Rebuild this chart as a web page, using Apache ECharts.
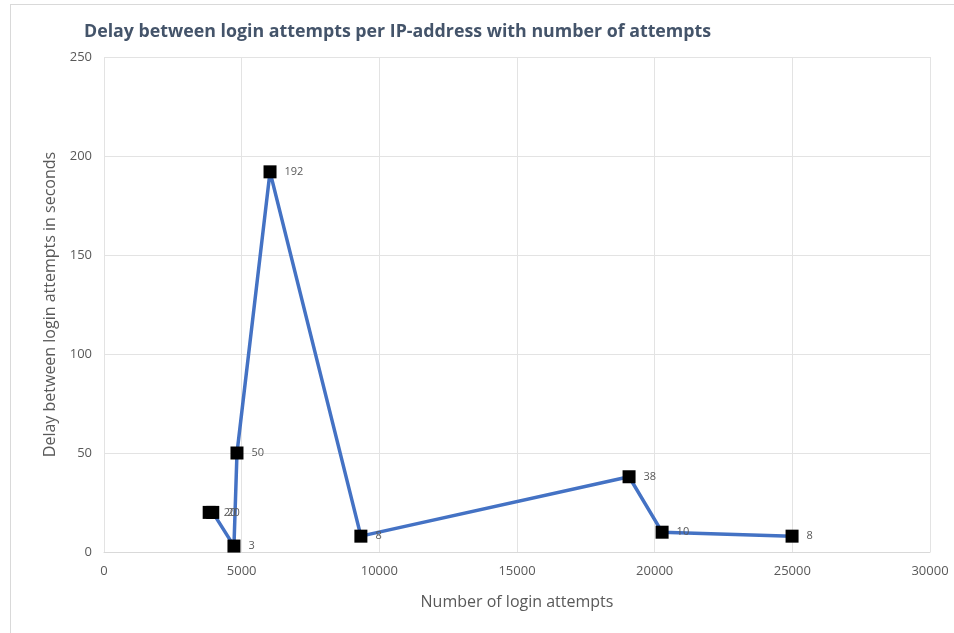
<!DOCTYPE html>
<html>
<head>
<meta charset="utf-8">
<script src="https://cdn.jsdelivr.net/npm/echarts@6/dist/echarts.min.js"></script>
<style>
  html, body { margin: 0; padding: 0; background: #fff; }
  #box { position: absolute; left: 10px; top: 4px; width: 946px; height: 640px; border: 1px solid #d9d9d9; box-sizing: border-box; }
  #chart { position: absolute; left: 0; top: 0; width: 954px; height: 633px; }
</style>
</head>
<body>
<div id="box"></div>
<div id="chart"></div>
<script>
// login attempts (x) vs delay in seconds (y)
var attempts = [3820, 3950, 4720, 4830, 6030, 9330, 19070, 20270, 24990]
var delays = [20, 20, 3, 50, 192, 8, 38, 10, 8]
var xTicks = [0, 5000, 10000, 15000, 20000, 25000, 30000]
var yTicks = [0, 50, 100, 150, 200, 250]

var pts = []
for (var i = 0; i < attempts.length; i++) {
  pts.push([attempts[i], delays[i]])
}

var fnt = '"Open Sans", "Noto Sans", sans-serif'
var myChart = echarts.init(document.getElementById('chart'))
myChart.setOption({
  animation: false,
  title: {
    text: 'Delay between login attempts per IP-address with number of attempts',
    left: 79,
    top: 18,
    textStyle: { fontFamily: fnt, fontSize: 17.8, fontWeight: 'bold', color: '#44546a' }
  },
  grid: { left: 104, right: 24, top: 57, bottom: 81 },
  xAxis: {
    type: 'value',
    min: xTicks[0],
    max: xTicks[xTicks.length - 1],
    interval: 5000,
    name: 'Number of login attempts',
    nameLocation: 'middle',
    nameGap: 42,
    nameTextStyle: { fontFamily: fnt, fontSize: 16, color: '#595959' },
    axisLine: { show: true, lineStyle: { color: '#d9d9d9', width: 1 } },
    axisTick: { show: false },
    axisLabel: { fontFamily: fnt, fontSize: 13, color: '#595959', margin: 13, formatter: function (v) { return String(v) } },
    splitLine: { show: true, lineStyle: { color: '#e3e3e3' } }
  },
  yAxis: {
    type: 'value',
    min: yTicks[0],
    max: yTicks[yTicks.length - 1],
    interval: 50,
    name: 'Delay between login attempts in seconds',
    nameLocation: 'middle',
    nameGap: 42,
    nameTextStyle: { fontFamily: fnt, fontSize: 16, color: '#595959' },
    axisLine: { show: false },
    axisTick: { show: false },
    axisLabel: { fontFamily: fnt, fontSize: 13, color: '#595959', margin: 12 },
    splitLine: { show: true, lineStyle: { color: '#e3e3e3' } }
  },
  series: [{
    type: 'line',
    data: pts,
    symbol: 'rect',
    symbolSize: 13,
    itemStyle: { color: '#000' },
    lineStyle: { color: '#4472c4', width: 3.5 },
    label: {
      show: true,
      position: 'right',
      distance: 8,
      fontFamily: fnt,
      fontSize: 11,
      color: '#595959',
      formatter: function (p) { return p.value[1] }
    }
  }]
})
</script>
</body>
</html>
